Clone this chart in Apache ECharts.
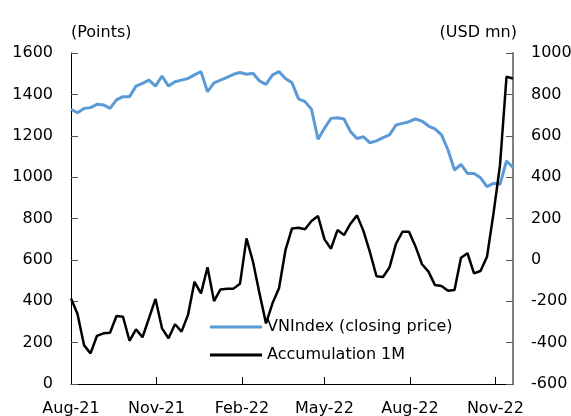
<!DOCTYPE html>
<html>
<head>
<meta charset="utf-8">
<script src="https://cdn.jsdelivr.net/npm/echarts@6/dist/echarts.min.js"></script>
<style>
  html, body { margin: 0; padding: 0; background: #fff; }
  #chart { width: 571px; height: 416px; }
</style>
</head>
<body>
<div id="chart"></div>
<script>
// weekly observations, first one on 1 Aug 2021
const firstWeek = '2021-08-01'
const weekCount = 69

// VNIndex closing price (points, left axis)
const vnIndex = [1328, 1311, 1332, 1336, 1352, 1349, 1332, 1373, 1389, 1389, 1440, 1453, 1469, 1440, 1489, 1440, 1461, 1469, 1477, 1494,
  1510, 1413, 1456, 1469, 1482, 1497, 1506, 1497, 1502, 1465, 1448, 1494, 1510, 1477, 1456, 1378, 1365, 1328, 1183, 1236,
  1284, 1287, 1281, 1220, 1187, 1195, 1166, 1175, 1191, 1204, 1252, 1260, 1268, 1281, 1271, 1247, 1233, 1204, 1131, 1034,
  1062, 1018, 1018, 997, 954, 970, 965, 1078, 1047]

// Accumulation 1M (USD mn, right axis)
const accumulation = [-186, -262, -412, -452, -367, -355, -352, -271, -275, -391, -336, -374, -282, -189, -331, -379, -311, -347, -266, -106,
  -162, -36, -199, -143, -140, -139, -115, 104, -9, -162, -307, -210, -137, 48, 152, 155, 148, 188, 212, 99,
  54, 144, 120, 175, 215, 139, 36, -79, -83, -36, 78, 136, 136, 65, -21, -57, -122, -126, -149, -146,
  10, 32, -65, -54, 15, 225, 458, 885, 877]

// x tick labels
const tickDates = ['2021-08-01', '2021-11-01', '2022-02-01', '2022-05-01', '2022-08-01', '2022-11-01']
const tickLabels = ['Aug-21', 'Nov-21', 'Feb-22', 'May-22', 'Aug-22', 'Nov-22']

// x positions in days since the first week
const DAY = 24 * 3600 * 1000
const start = new Date(firstWeek + 'T00:00:00Z').getTime()
const weeks = []
for (let i = 0; i < weekCount; i++) weeks.push(i * 7)
const tickDays = tickDates.map(d => Math.round((new Date(d + 'T00:00:00Z').getTime() - start) / DAY))

const font = 'DejaVu Sans'

const chart = echarts.init(document.getElementById('chart'))
chart.setOption({
  animation: false,
  textStyle: { fontFamily: font },
  grid: { left: 71, right: 58, top: 53, bottom: 32, outerBoundsMode: 'none' },
  legend: {
    orient: 'vertical',
    left: 205,
    top: 313,
    icon: 'rect',
    itemWidth: 52,
    itemHeight: 3,
    itemGap: 10,
    textStyle: { fontFamily: font, fontSize: 16, color: '#000', lineHeight: 18 },
    data: ['VNIndex (closing price)', 'Accumulation 1M']
  },
  xAxis: {
    type: 'value',
    min: weeks[0],
    max: weeks[weeks.length - 1],
    axisLine: { lineStyle: { color: '#000', width: 1 } },
    axisTick: {
      inside: true,
      length: 7,
      customValues: tickDays,
      lineStyle: { color: '#000' }
    },
    axisLabel: {
      customValues: tickDays,
      margin: 17,
      fontFamily: font,
      fontSize: 16,
      color: '#000',
      formatter: v => tickLabels[tickDays.indexOf(v)] || ''
    },
    splitLine: { show: false }
  },
  yAxis: [
    {
      type: 'value',
      min: 0,
      max: 1600,
      interval: 200,
      name: '(Points)',
      nameLocation: 'end',
      nameGap: 12,
      nameTextStyle: { fontFamily: font, fontSize: 16, color: '#000', align: 'left', verticalAlign: 'bottom' },
      axisLine: { show: true, lineStyle: { color: '#000', width: 1 } },
      axisTick: { show: true, inside: true, length: 7, lineStyle: { color: '#555' } },
      axisLabel: { margin: 18, fontFamily: font, fontSize: 16, color: '#000', formatter: v => String(v) },
      splitLine: { show: false }
    },
    {
      type: 'value',
      min: -600,
      max: 1000,
      interval: 200,
      name: '(USD mn)',
      nameLocation: 'end',
      nameGap: 12,
      nameTextStyle: { fontFamily: font, fontSize: 16, color: '#000', align: 'right', verticalAlign: 'bottom', padding: [0, -4, 0, 0] },
      axisLine: { show: true, lineStyle: { color: '#808080', width: 2 } },
      axisTick: { show: true, inside: true, length: 7, lineStyle: { color: '#555' } },
      axisLabel: { margin: 18, fontFamily: font, fontSize: 16, color: '#000', formatter: v => String(v) },
      splitLine: { show: false }
    }
  ],
  series: [
    {
      name: 'VNIndex (closing price)',
      type: 'line',
      yAxisIndex: 0,
      showSymbol: false,
      color: '#5b9bd5',
      lineStyle: { width: 3, color: '#5b9bd5' },
      data: weeks.map((d, i) => [d, vnIndex[i]])
    },
    {
      name: 'Accumulation 1M',
      type: 'line',
      yAxisIndex: 1,
      showSymbol: false,
      color: '#000',
      lineStyle: { width: 2.5, color: '#000' },
      data: weeks.map((d, i) => [d, accumulation[i]])
    }
  ]
})
</script>
</body>
</html>
